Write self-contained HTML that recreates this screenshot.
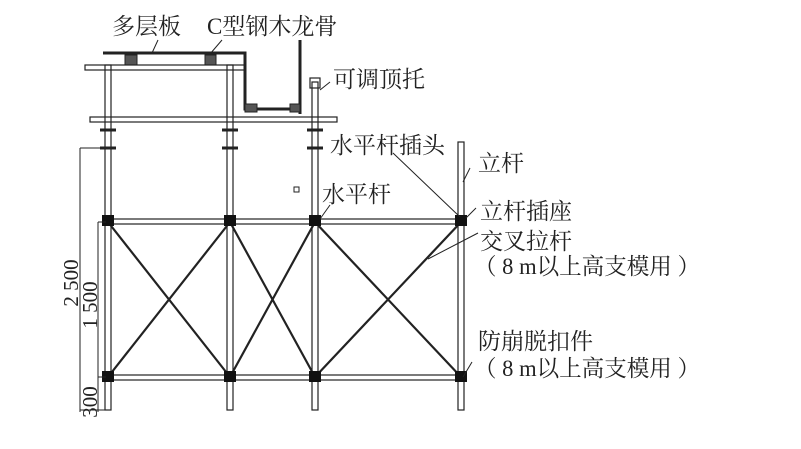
<!DOCTYPE html>
<html><head><meta charset="utf-8"><style>
html,body{margin:0;padding:0;background:#fff;}
svg{display:block;}
text{font-family:"Liberation Serif","Noto Serif CJK SC",serif;fill:#222;}
</style></head><body>
<svg width="801" height="449" viewBox="0 0 801 449" xmlns="http://www.w3.org/2000/svg">
<g stroke="#222" fill="none">
<path d="M103 53 H245 V109 H300" stroke-width="3"/>
<line x1="300" y1="40" x2="300" y2="114" stroke-width="3"/>
<rect x="125" y="55" width="12" height="10" fill="#555" stroke-width="1"/>
<rect x="205" y="55" width="11" height="10" fill="#555" stroke-width="1"/>
<rect x="245" y="104" width="12" height="8" fill="#555" stroke-width="1"/>
<rect x="290" y="104" width="10" height="8" fill="#555" stroke-width="1"/>
<rect x="85" y="65" width="160" height="5" stroke-width="1.2"/>
<rect x="90" y="117" width="247" height="5" stroke-width="1.2"/>
<rect x="105" y="65" width="6" height="345" stroke-width="1.2"/>
<rect x="227" y="65" width="6" height="345" stroke-width="1.2"/>
<rect x="312" y="82" width="6" height="328" stroke-width="1.2"/>
<rect x="458" y="142" width="6" height="268" stroke-width="1.2"/>
<rect x="310" y="78" width="10" height="10" stroke-width="1.2"/>
<g stroke-width="3">
<line x1="100" y1="130" x2="116" y2="130"/><line x1="100" y1="148" x2="116" y2="148"/>
<line x1="222" y1="130" x2="238" y2="130"/><line x1="222" y1="148" x2="238" y2="148"/>
<line x1="307" y1="130" x2="323" y2="130"/><line x1="307" y1="148" x2="323" y2="148"/>
</g>
<rect x="108" y="219" width="353" height="5" stroke-width="1.2"/>
<rect x="108" y="375" width="353" height="5" stroke-width="1.2"/>
<g stroke-width="2.2">
<line x1="108" y1="222" x2="230" y2="377"/><line x1="230" y1="222" x2="108" y2="377"/>
<line x1="230" y1="222" x2="315" y2="377"/><line x1="315" y1="222" x2="230" y2="377"/>
<line x1="315" y1="222" x2="461" y2="377"/><line x1="461" y1="222" x2="315" y2="377"/>
</g>
<g fill="#111" stroke="none">
<rect x="102" y="215" width="12" height="11"/><rect x="224" y="215" width="12" height="11"/>
<rect x="309" y="215" width="12" height="11"/><rect x="455" y="215" width="12" height="11"/>
<rect x="102" y="371" width="12" height="11"/><rect x="224" y="371" width="12" height="11"/>
<rect x="309" y="371" width="12" height="11"/><rect x="455" y="371" width="12" height="11"/>
</g>
<rect x="294" y="187" width="5" height="5" stroke-width="1"/>
<g stroke-width="1">
<line x1="80" y1="148" x2="80" y2="412"/><line x1="80" y1="148" x2="100" y2="148"/>
<line x1="98" y1="222" x2="98" y2="412"/><line x1="98" y1="222" x2="106" y2="222"/>
<line x1="98" y1="377" x2="106" y2="377"/><line x1="80" y1="410" x2="106" y2="410"/>
</g>
<g stroke-width="1">
<line x1="158" y1="40" x2="152" y2="53"/><line x1="222" y1="40" x2="210" y2="54"/>
<line x1="330" y1="82" x2="320" y2="90"/><line x1="393" y1="153" x2="460" y2="217"/>
<line x1="470" y1="168" x2="463" y2="182"/><line x1="330" y1="205" x2="320" y2="219"/>
<line x1="476" y1="208" x2="466" y2="218"/><line x1="478" y1="233" x2="428" y2="259"/>
<line x1="472" y1="362" x2="463" y2="377"/>
</g>
</g>
<g font-size="23">
<text x="112" y="34">多层板</text>
<text x="207" y="34">C型钢木龙骨</text>
<text x="333" y="87">可调顶托</text>
<text x="330" y="153">水平杆插头</text>
<text x="478" y="171">立杆</text>
<text x="322" y="202">水平杆</text>
<text x="480" y="219">立杆插座</text>
<text x="480" y="249">交叉拉杆</text>
<text x="474" y="274" textLength="226" lengthAdjust="spacingAndGlyphs">（ 8 m以上高支模用 ）</text>
<text x="478" y="349">防崩脱扣件</text>
<text x="474" y="376" textLength="226" lengthAdjust="spacingAndGlyphs">（ 8 m以上高支模用 ）</text>
</g>
<g font-size="21">
<text transform="translate(78,283) rotate(-90)" text-anchor="middle">2 500</text>
<text transform="translate(97,305) rotate(-90)" text-anchor="middle">1 500</text>
<text transform="translate(97,402) rotate(-90)" text-anchor="middle">300</text>
</g>
</svg>
</body></html>
